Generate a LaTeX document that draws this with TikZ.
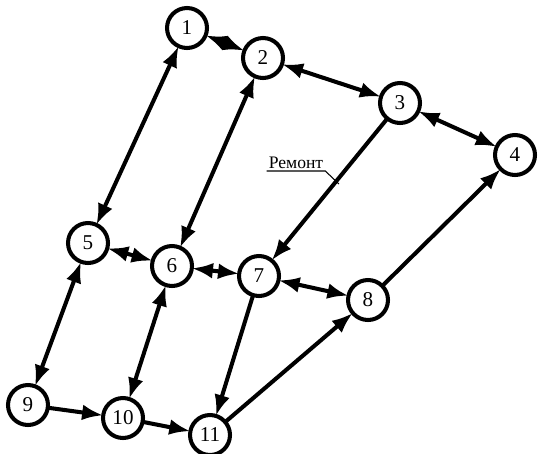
\documentclass[tikz,border=0pt]{standalone}
\usepackage{fontspec}
\setmainfont{Liberation Serif}
\usepackage{tikz}
\usetikzlibrary{arrows.meta,calc,positioning}
\tikzstyle{edge}  =[>={Latex[length=12pt,width=9pt]}, line width=2.3pt]
\tikzstyle{vertex}=[circle, draw, minimum size=0.8cm,
                    line width=2.3pt, inner sep=0pt,
                    outer sep=0pt, fill=white, font=\large]
\tikzstyle{label} =[inner sep=1pt, fill=none, draw=none]

\begin{document}
\begin{tikzpicture}[x=0.02cm, y=-0.02cm]
    \useasboundingbox (0,0) rectangle (543,453);
    \begin{scope}[every node/.style={vertex}]
        \node (n1) at (187, 28) {1};
        \node (n2) at (263, 58) {2};
        \node (n3) at (400,103) {3};
        \node (n4) at (515,155) {4};
        \node (n5) at (88, 243) {5};
        \node (n6) at (172,266) {6};
        \node (n7) at (259,276) {7};
        \node (n8) at (368,300) {8};
        \node (n9) at (28, 405) {9};
        \node (n10) at (123,418) {10};
        \node (n11) at (210,435) {11};
    \end{scope}
    \begin{scope}[edge]
        \draw[<->] (n1) to (n5);
        \draw[<->] (n1) to (n2);
        \draw[<->] (n2) to (n3);
        \draw[<->] (n2) to (n6);
        \draw[<->] (n3) to (n4);
        \draw[->] (n3) to (n7);
        \draw[<->] (n5) to (n6);
        \draw[<->] (n6) to (n7);
        \draw[<->] (n7) to (n8);
        \draw[->] (n8) to (n4);
        \draw[<->] (n5) to (n9);
        \draw[<->] (n6) to (n10);
        \draw[->] (n9) to (n10);
        \draw[->] (n10) to (n11);
        \draw[->] (n7) to (n11);
        \draw[->] (n11) to (n8);
    \end{scope}
    % repair label
    \node (rem) [label, anchor=south] at (296,171) {Ремонт};
    \coordinate (remend) at (339,184);
    \draw[line width=0.6pt] (rem.south west) -- (rem.south east) -- (remend);
\end{tikzpicture}
\end{document}
